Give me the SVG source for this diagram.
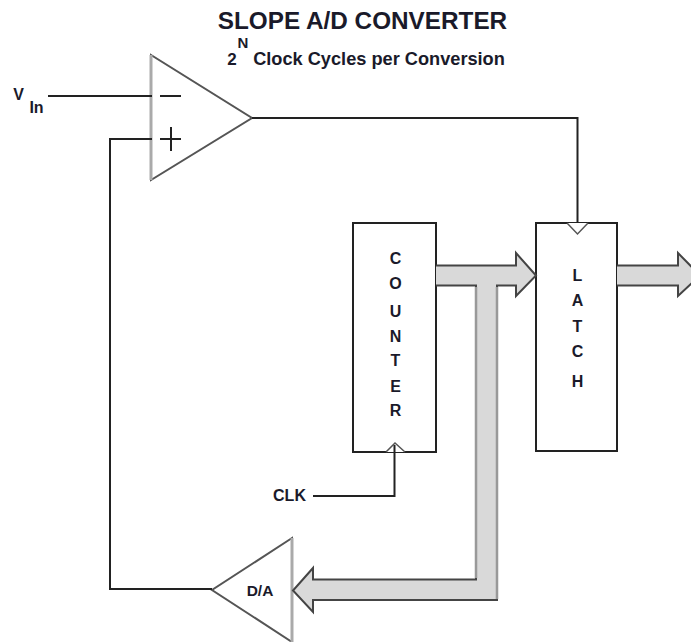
<svg xmlns="http://www.w3.org/2000/svg" width="691" height="642" viewBox="0 0 691 642">
<style>
text{font-family:"Liberation Sans",Arial,sans-serif;font-weight:bold;fill:#1a1a2a;text-anchor:middle}
.l{font-size:16px}
.w{fill:none;stroke:#222;stroke-width:2}
.box{fill:#fff;stroke:#222;stroke-width:2}
.tri{fill:#fff;stroke:#555;stroke-width:2}
.bar{stroke:#aaa;stroke-width:3}
.bus{fill:#d9d9d9;stroke:#444;stroke-width:2;stroke-linejoin:miter}
.edge{stroke:#999;stroke-width:2.5;fill:none}
</style>
<rect width="691" height="642" fill="#fff"/>
<g id="title">
<text x="362.500" y="28.500" font-size="24.300">SLOPE A/D CONVERTER</text>
<text x="232" y="65" font-size="17">2</text>
<text x="243" y="48" font-size="15">N</text>
<text x="379" y="65" font-size="18.200">Clock Cycles per Conversion</text>
</g>
<g id="opamp"><path class="tri" d="M151 55V180L252 118Z"/><path class="bar" d="M151 55V180"/>
<path class="w" d="M160 96H181M160 139H181M171 127V151"/></g>
<g id="vin"><text x="18.500" y="100" font-size="16">V</text><text x="36.500" y="113" font-size="16">In</text></g>
<g id="counter"><rect class="box" x="353" y="223" width="83" height="229"/>
<path d="M386 452L395 443L405 452" fill="#fff" stroke="#555" stroke-width="1.500"/>
<g class="l"><text x="395.500" y="264">C</text><text x="395.500" y="289">O</text><text x="395.500" y="317">U</text><text x="395.500" y="342">N</text><text x="395.500" y="366">T</text><text x="395.500" y="392">E</text><text x="395.500" y="416">R</text></g></g>
<g id="latch"><rect class="box" x="536" y="223" width="81" height="228"/>
<path d="M567 223L577.500 234L588 223" fill="#fff" stroke="#555" stroke-width="1.500"/>
<g class="l"><text x="577.500" y="281">L</text><text x="577.500" y="306">A</text><text x="577.500" y="332">T</text><text x="577.500" y="357">C</text><text x="577.500" y="387">H</text></g></g>
<g id="clk"><text x="289.500" y="501" font-size="16">CLK</text></g>
<g id="da"><path class="tri" d="M292 538V642L212 590Z"/><path class="bar" d="M292 538V642"/>
<text x="260" y="596" font-size="15.500">D/A</text></g>
<g id="connectors">
<path class="w" d="M48 96H152M152 139H110V589H212M252 118H577.500V222M313 496H394.500V445"/>
<path class="bus" d="M436 265.500H516V253L536 275.500L516 296V285.500H497V600H313V612L293 590.500L313 568V579.500H476V285.500H436"/>
<path class="edge" d="M476 287V578M497 287V599"/>
<path class="bus" d="M617 265.500H678V253L700 275.500L678 296V285.500H617"/>
</g>
</svg>
